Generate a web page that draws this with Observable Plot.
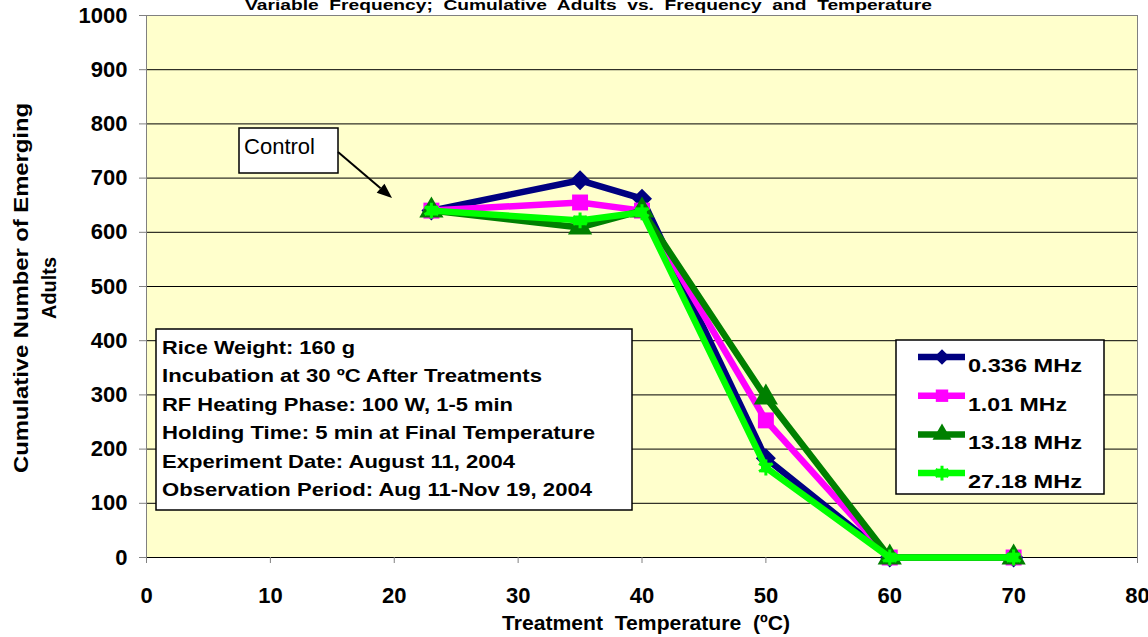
<!DOCTYPE html>
<html><head><meta charset="utf-8">
<script src="https://cdn.jsdelivr.net/npm/d3@7"></script>
<script src="https://cdn.jsdelivr.net/npm/@observablehq/plot@0.6"></script>
<style>body{margin:0;background:#fff;} svg{display:block} text{white-space:pre}</style>
</head><body><div id="chart"></div>
<script>
// ---- data ----
const temperatures = [23, 35, 40, 50, 60, 70];
const seriesNames = ["0.336 MHz", "1.01 MHz", "13.18 MHz", "27.18 MHz"];
const adults0336 = [640, 696, 662, 183, 0, 0];
const adults101  = [640, 655, 640, 253, 0, 0];
const adults1318 = [640, 609, 640, 295, 0, 0];
const adults2718 = [640, 622, 637, 166, 0, 0];
const xTicks = [0, 10, 20, 30, 40, 50, 60, 70, 80];
const yTicks = [0, 100, 200, 300, 400, 500, 600, 700, 800, 900, 1000];
const titleText = "Variable  Frequency;  Cumulative  Adults  vs.  Frequency  and  Temperature";
const xLabel = "Treatment  Temperature  (ºC)";
const yLabelLines = ["Cumulative Number of Emerging", "Adults"];
const noteLines = [
  "Rice Weight: 160 g",
  "Incubation at 30 ºC After Treatments",
  "RF Heating Phase: 100 W, 1-5 min",
  "Holding Time: 5 min at Final Temperature",
  "Experiment Date: August 11, 2004",
  "Observation Period: Aug 11-Nov 19, 2004"
];
const controlLabel = "Control";

// ---- styles ----
const colors = ["#000080", "#ff00ff", "#008000", "#00ff00"];
const symbols = ["diamond2", "square", "triangle", "asterisk"];
const d3symbols = [d3.symbolDiamond2, d3.symbolSquare, d3.symbolTriangle, d3.symbolAsterisk];

const allValues = [adults0336, adults101, adults1318, adults2718];
const rows = [];
seriesNames.forEach((s, i) => temperatures.forEach((t, j) => rows.push({series: s, t, v: allValues[i][j]})));

const seriesMarks = [];
seriesNames.forEach((s, i) => {
  const d = rows.filter(r => r.series === s);
  seriesMarks.push(Plot.line(d, {x: "t", y: "v", stroke: colors[i], strokeWidth: 6.5, strokeLinejoin: "round"}));
  if (symbols[i] === "asterisk") {
    seriesMarks.push(Plot.dot(d, {x: "t", y: "v", symbol: "square", fill: colors[i], r: 5.5}));
    seriesMarks.push(Plot.dot(d, {x: "t", y: "v", symbol: "asterisk", stroke: colors[i], strokeWidth: 3, r: 7.5}));
  } else {
    seriesMarks.push(Plot.dot(d, {x: "t", y: "v", symbol: symbols[i], fill: colors[i], r: 9}));
  }
});

const plot = Plot.plot({
  width: 1148, height: 637,
  marginLeft: 146, marginRight: 11, marginTop: 15, marginBottom: 80,
  style: {fontFamily: "Arial, 'Liberation Sans', sans-serif", background: "#fff"},
  x: {domain: [0, 80], label: null},
  y: {domain: [0, 1000], label: null},
  marks: [
    Plot.frame({fill: "#ffffcc"}),
    Plot.gridY(yTicks, {stroke: "#000", strokeOpacity: 1, strokeWidth: 1}),
    Plot.frame({stroke: "#808080"}),
    Plot.ruleY([0], {stroke: "#000"}),
    Plot.axisY(yTicks, {tickSize: 7, tickPadding: 12, fontSize: 22, fontWeight: "bold", stroke: "#808080", fill: "#000", label: null, tickFormat: d => String(d)}),
    Plot.axisX(xTicks, {tickSize: 6, tickPadding: 24, fontSize: 22, fontWeight: "bold", stroke: "#808080", fill: "#000", label: null, tickFormat: d => String(d)}),
    ...seriesMarks
  ]
});
document.getElementById("chart").appendChild(plot);

// ---- annotations (pixel layout) ----
const svg = d3.select(plot);
const font = "Arial, 'Liberation Sans', sans-serif";
const g = svg.append("g").attr("text-anchor", "start").attr("font-family", font);

function txt(x, y, s, size, w, bold, anchor) {
  return g.append("text").attr("x", x).attr("y", y).attr("font-size", size)
    .attr("font-weight", bold ? "bold" : "normal").attr("text-anchor", anchor || "start")
    .attr("textLength", w).attr("lengthAdjust", "spacingAndGlyphs").text(s);
}

txt(245, 10, titleText, 15, 687, true);
txt(502, 630, xLabel, 20, 288, true);

const yl = [[28, 370], [56, 62]];
yLabelLines.forEach((l, i) => {
  txt(0, 0, l, 20, yl[i][1], true, "middle").attr("transform", `translate(${yl[i][0]},288) rotate(-90)`);
});

// note box
g.append("rect").attr("x", 156).attr("y", 329).attr("width", 476).attr("height", 181)
  .attr("fill", "#fff").attr("stroke", "#000").attr("stroke-width", 1.5);
const noteW = [193, 380, 351, 433, 353, 430];
noteLines.forEach((l, i) => txt(162, 354 + i * 28.4, l, 19, noteW[i], true));

// legend
g.append("rect").attr("x", 896).attr("y", 340).attr("width", 208).attr("height", 154)
  .attr("fill", "#fff").attr("stroke", "#000").attr("stroke-width", 1.5);
const legW = [114, 99, 114, 114];
seriesNames.forEach((s, i) => {
  const cy = 357 + i * 38.7;
  g.append("line").attr("x1", 918).attr("x2", 965).attr("y1", cy).attr("y2", cy)
    .attr("stroke", colors[i]).attr("stroke-width", 6.5);
  if (i === 3) {
    g.append("path").attr("transform", `translate(942,${cy})`).attr("d", d3.symbol(d3.symbolSquare, Math.PI * 25)()).attr("fill", colors[i]);
    g.append("path").attr("transform", `translate(942,${cy})`).attr("d", d3.symbol(d3.symbolAsterisk, Math.PI * 49)()).attr("stroke", colors[i]).attr("stroke-width", 3).attr("fill", "none");
  } else {
    g.append("path").attr("transform", `translate(942,${cy})`).attr("d", d3.symbol(d3symbols[i], Math.PI * 49)()).attr("fill", colors[i]);
  }
  txt(968, cy + 15, s, 19, legW[i], true);
});

// control label + arrow
g.append("rect").attr("x", 239).attr("y", 128).attr("width", 99).attr("height", 45)
  .attr("fill", "#fff").attr("stroke", "#000").attr("stroke-width", 1.5);
txt(244, 154, controlLabel, 22, 71, false);
const ax0 = 338, ay0 = 152, ax1 = 392, ay1 = 198;
const ang = Math.atan2(ay1 - ay0, ax1 - ax0), hl = 15, hw = 6;
const bx = ax1 - hl * Math.cos(ang), by = ay1 - hl * Math.sin(ang);
g.append("line").attr("x1", ax0).attr("y1", ay0).attr("x2", bx).attr("y2", by).attr("stroke", "#000").attr("stroke-width", 2);
g.append("path").attr("d", `M${ax1},${ay1}L${bx - hw * Math.sin(ang)},${by + hw * Math.cos(ang)}L${bx + hw * Math.sin(ang)},${by - hw * Math.cos(ang)}Z`).attr("fill", "#000");
</script></body></html>
